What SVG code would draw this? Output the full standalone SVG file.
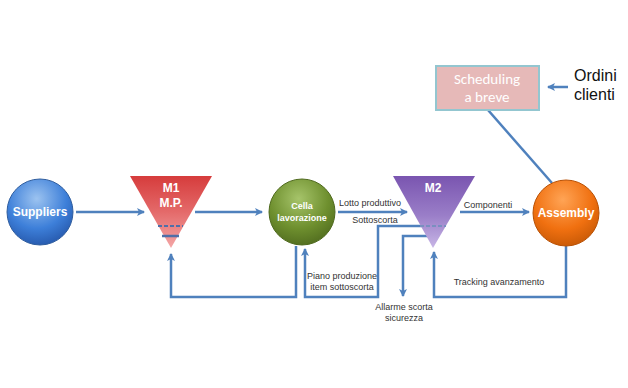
<svg xmlns="http://www.w3.org/2000/svg" width="628" height="388" viewBox="0 0 628 388">
<defs>
<radialGradient id="gBlue" cx="0.45" cy="0.3" r="0.75"><stop offset="0" stop-color="#9cc3f0"/><stop offset="0.6" stop-color="#3d7fd9"/><stop offset="1" stop-color="#2455a8"/></radialGradient>
<radialGradient id="gGreen" cx="0.45" cy="0.3" r="0.75"><stop offset="0" stop-color="#a6c46a"/><stop offset="0.6" stop-color="#6e8f2e"/><stop offset="1" stop-color="#4f6a1e"/></radialGradient>
<radialGradient id="gOrange" cx="0.45" cy="0.3" r="0.75"><stop offset="0" stop-color="#ffa455"/><stop offset="0.6" stop-color="#f07010"/><stop offset="1" stop-color="#c45705"/></radialGradient>
<linearGradient id="gRed" x1="0" y1="0" x2="0" y2="1"><stop offset="0" stop-color="#d63c3c"/><stop offset="0.5" stop-color="#e46a6a"/><stop offset="1" stop-color="#f4a7a7"/></linearGradient>
<linearGradient id="gPurple" x1="0" y1="0" x2="0" y2="1"><stop offset="0" stop-color="#7a55b0"/><stop offset="0.55" stop-color="#9a7ec8"/><stop offset="1" stop-color="#c8b6e6"/></linearGradient>
<marker id="arr" markerWidth="8" markerHeight="8" refX="7" refY="4" orient="auto" markerUnits="userSpaceOnUse"><path d="M0,0 L8,4 L0,8 L2,4 Z" fill="#4f81bd"/></marker>
</defs>
<style>
.c{fill:none;stroke:#4f81bd;stroke-width:2.5}
.lbl{font-family:"Liberation Sans",Arial,sans-serif;font-size:9px;fill:#333;text-anchor:middle}
.nt{font-family:"Liberation Sans",Arial,sans-serif;font-weight:bold;fill:#fff;text-anchor:middle}
</style>
<rect width="628" height="388" fill="#fff"/>
<g id="connectors">
<path class="c" d="M76,212 H144" marker-end="url(#arr)"/>
<path class="c" d="M195,212 H262" marker-end="url(#arr)"/>
<path class="c" d="M296,246 V297 H171 V254" marker-end="url(#arr)"/>
<path class="c" d="M422,226 H378 V297 H305 V249" marker-end="url(#arr)"/>
<path class="c" d="M338,212 H407" marker-end="url(#arr)"/>
<path class="c" d="M430,236 H403 V296" marker-end="url(#arr)"/>
<path class="c" d="M460,212 H529" marker-end="url(#arr)"/>
<path class="c" d="M566,246 V297 H434 V252" marker-end="url(#arr)"/>
<path class="c" d="M488,110 L552,183" stroke-width="2"/>
<path class="c" d="M568,87 H548" marker-end="url(#arr)"/>
<text class="lbl" x="370" y="206">Lotto produttivo</text>
<text class="lbl" x="375" y="223">Sottoscorta</text>
<text class="lbl" x="488" y="208">Componenti</text>
<text class="lbl" x="342" y="279">Piano produzione</text>
<text class="lbl" x="342" y="290">item sottoscorta</text>
<text class="lbl" x="404" y="310">Allarme scorta</text>
<text class="lbl" x="404" y="321">sicurezza</text>
<text class="lbl" x="499" y="285">Tracking avanzamento</text>
</g>
<g id="suppliers">
<circle cx="40" cy="212" r="33" fill="url(#gBlue)" stroke="#2f5d9e" stroke-width="1"/>
<text class="nt" x="40" y="216" font-size="12">Suppliers</text>
</g>
<g id="m1">
<polygon points="130,176 212,176 171,248" fill="url(#gRed)"/>
<text class="nt" x="171" y="192" font-size="12">M1</text>
<text class="nt" x="171" y="207" font-size="12">M.P.</text>
<line x1="158" y1="226" x2="183" y2="226" stroke="#4f6fa8" stroke-width="2" stroke-dasharray="4,2"/>
<line x1="162" y1="236" x2="179" y2="236" stroke="#4f6fa8" stroke-width="2.5"/>
</g>
<g id="cella">
<circle cx="302" cy="212" r="33" fill="url(#gGreen)" stroke="#4f6a1e" stroke-width="1"/>
<text class="nt" x="302" y="209" font-size="9">Cella</text>
<text class="nt" x="302" y="221" font-size="9">lavorazione</text>
</g>
<g id="m2">
<polygon points="393,176 475,176 433,248" fill="url(#gPurple)"/>
<text class="nt" x="433" y="192" font-size="12">M2</text>
<line x1="420" y1="226" x2="446" y2="226" stroke="#7a8fc0" stroke-width="2" stroke-dasharray="4,2"/>
</g>
<g id="assembly">
<circle cx="566" cy="213" r="33" fill="url(#gOrange)" stroke="#b85004" stroke-width="1"/>
<text class="nt" x="566" y="217" font-size="12">Assembly</text>
</g>
<g id="scheduling">
<rect x="436" y="66" width="103" height="44" fill="#e6b9b8" stroke="#93c6d0" stroke-width="2"/>
<text x="487" y="84" font-family="Calibri,'Liberation Sans',sans-serif" font-size="15" fill="#fff" text-anchor="middle">Scheduling</text>
<text x="487" y="102" font-family="Calibri,'Liberation Sans',sans-serif" font-size="15" fill="#fff" text-anchor="middle">a breve</text>
</g>
<g id="ordini">
<text x="574" y="81" font-family="'Liberation Sans',sans-serif" font-size="16" fill="#111">Ordini</text>
<text x="574" y="100" font-family="'Liberation Sans',sans-serif" font-size="16" fill="#111">clienti</text>
</g>
</svg>
